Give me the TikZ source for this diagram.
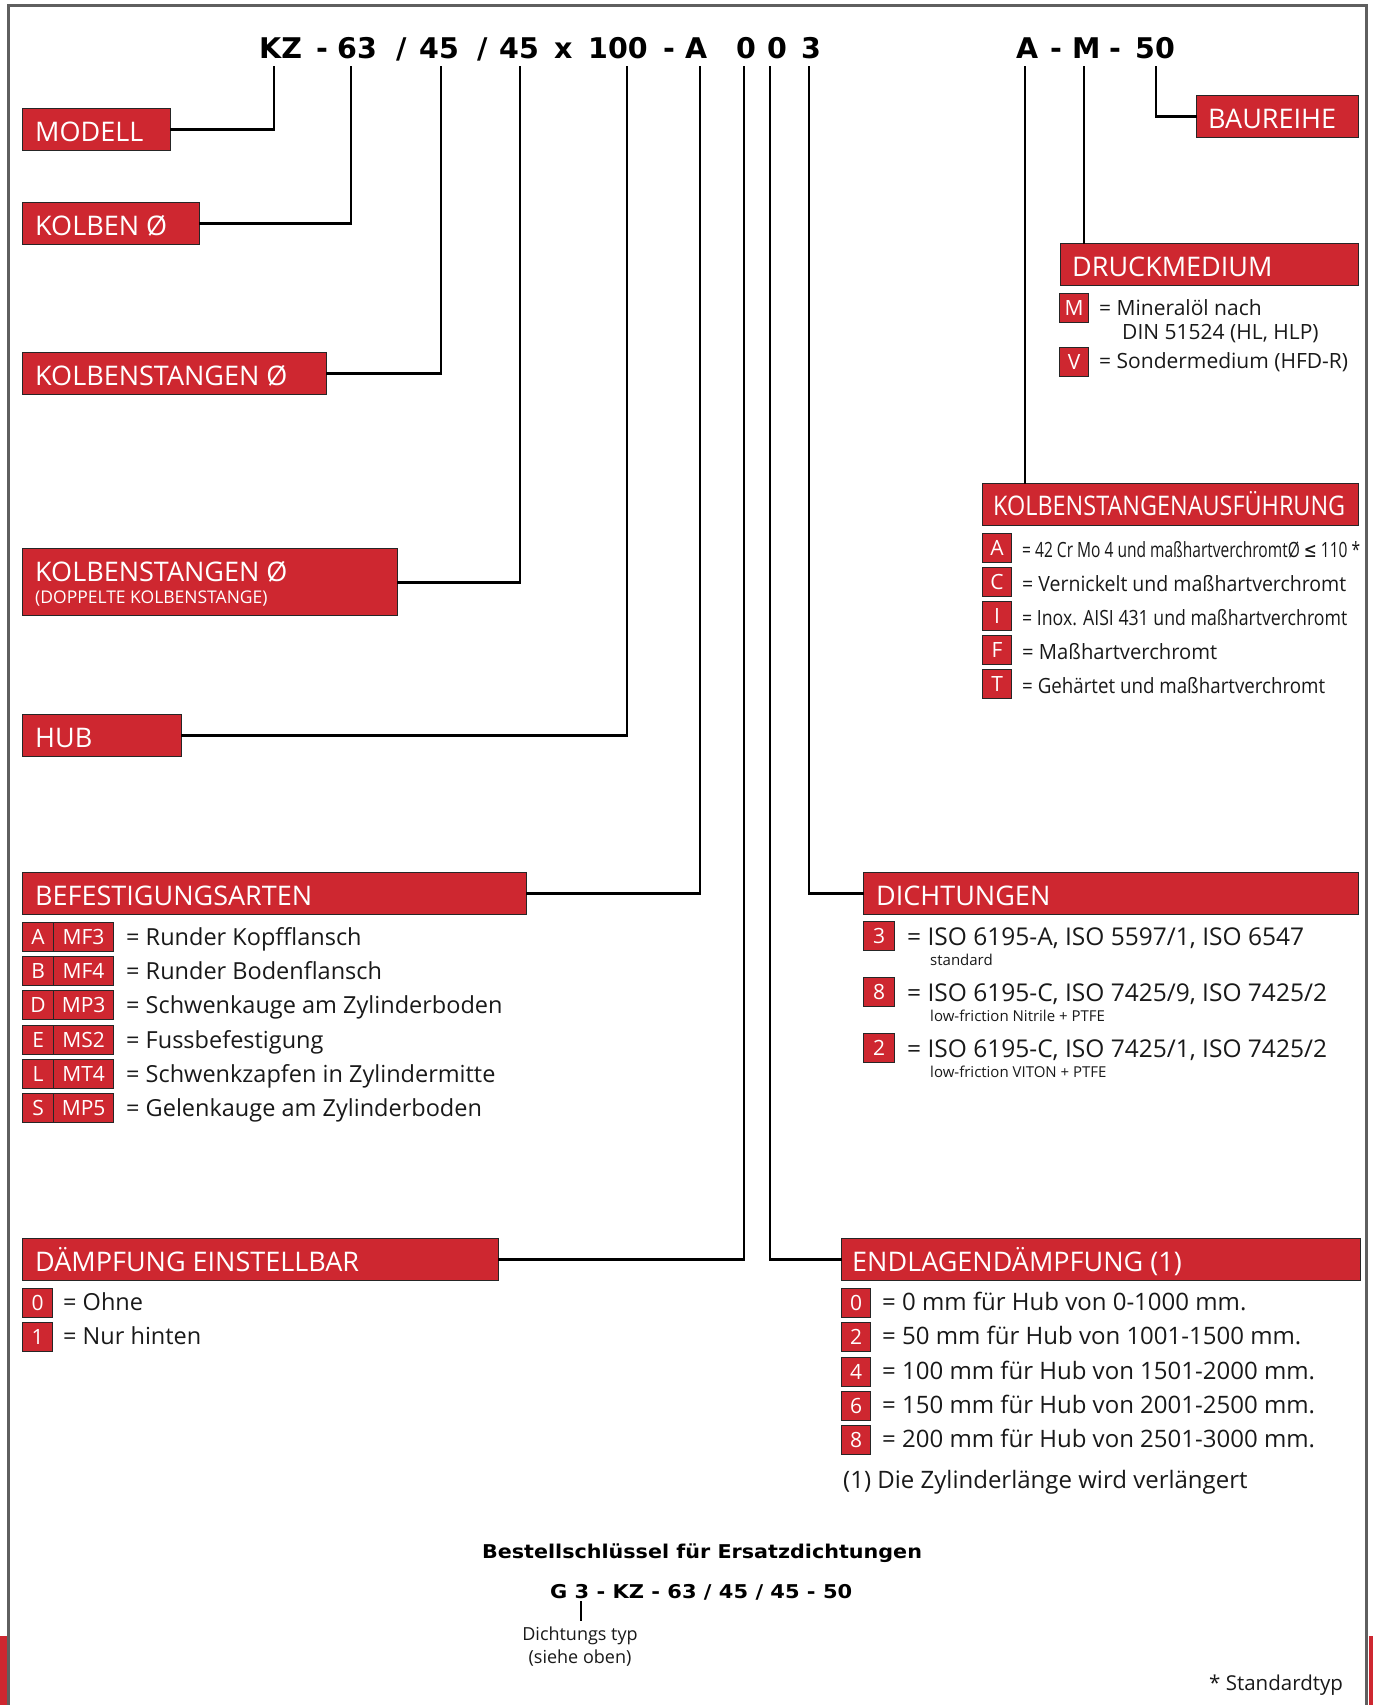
\documentclass[tikz,border=0pt]{standalone}
\usepackage{fontspec}
\usepackage{graphicx}
\setmainfont{Open Sans}
\newfontfamily\dvfont{DejaVu Sans}
\definecolor{kred}{RGB}{206,39,48}
\definecolor{ktext}{RGB}{25,25,25}
\definecolor{kframe}{RGB}{95,95,95}
\newcommand\fitw[2]{\resizebox{#1pt}{\height}{#2}}
\newcommand\fhdr{\fontsize{27}{32}\selectfont}
\newcommand\fsub{\fontsize{17.5}{20}\selectfont}
\newcommand\fcode{\dvfont\bfseries\fontsize{28.5}{34}\selectfont}
\newcommand\fkey{\fontsize{21}{25}\selectfont}
\newcommand\fdruck{\fontsize{21}{26}\selectfont}
\newcommand\fkaus{\fontsize{21}{25}\selectfont}
\newcommand\fbody{\fontsize{23.5}{28}\selectfont}
\newcommand\fiso{\fontsize{24.5}{29}\selectfont}
\newcommand\fendl{\fontsize{24}{29}\selectfont}
\newcommand\fsmall{\fontsize{15}{18}\selectfont}
\newcommand\fbot{\dvfont\bfseries\fontsize{19}{23}\selectfont}
\newcommand\fnote{\fontsize{18}{22}\selectfont}
\begin{document}
\begin{tikzpicture}[x=1pt,y=-1pt,
  hbox/.style={draw=black!85,line width=1.4pt,fill=kred,inner sep=0pt,anchor=north west},
  kb/.style={draw=black!85,line width=1.2pt,fill=kred,text=white,inner sep=0pt,
    minimum height=29pt,font=\fkey,text height=15pt,text depth=0pt,anchor=north west},
  hl/.style={anchor=base west,inner sep=0pt,text=white,font=\fhdr},
  tx/.style={anchor=base west,inner sep=0pt,text=ktext},
  tok/.style={anchor=base west,inner sep=0pt,text=black,font=\fcode},
  conn/.style={draw=black,line width=2.6pt,line cap=rect}]
\useasboundingbox (0,0) rectangle (1373,1705);
\fill[white] (0,0) rectangle (1373,1705);
% frame and red strips
\fill[kred] (0,1636) rectangle (7.5,1705);
\fill[kred] (1369,1636) rectangle (1373,1705);
\draw[kframe,line width=3pt] (8.8,1705) -- (8.8,5.5) -- (1366.3,5.5) -- (1366.3,1705);

% header code tokens
\node[tok] (t1) at (259,58) {KZ};
\node[tok] (t2) at (316,58) {-};
\node[tok] (t3) at (337,58) {63};
\node[tok] (t4) at (396,58) {/};
\node[tok] (t5) at (419,58) {45};
\node[tok] (t6) at (477,58) {/};
\node[tok] (t7) at (499,58) {45};
\node[tok] (t8) at (554,58) {x};
\node[tok] (t9) at (588,58) {100};
\node[tok] (t10) at (663,58) {-};
\node[tok] (t11) at (685,58) {A};
\node[tok] (t12) at (736,58) {0};
\node[tok] (t13) at (767,58) {0};
\node[tok] (t14) at (801,58) {3};
\node[tok] (t15) at (1016,58) {A};
\node[tok] (t16) at (1050,58) {-};
\node[tok] (t17) at (1072,58) {M};
\node[tok] (t18) at (1109,58) {-};
\node[tok] (t19) at (1135,58) {50};

\coordinate (c1) at (274,67);
\coordinate (c2) at (351,67);
\coordinate (c3) at (441,67);
\coordinate (c4) at (520,67);
\coordinate (c5) at (627,67);
\coordinate (c6) at (700,67);
\coordinate (c7) at (744,67);
\coordinate (c8) at (770,67);
\coordinate (c9) at (809,67);
\coordinate (c10) at (1025,67);
\coordinate (c11) at (1084,67);
\coordinate (c12) at (1156,67);

% header boxes
\node[hbox,minimum width=148pt,minimum height=42pt] (modell) at (22,108) {};
\node[hbox,minimum width=177pt,minimum height=42pt] (kolben) at (22,202) {};
\node[hbox,minimum width=304pt,minimum height=42pt] (kstang) at (22,352) {};
\node[hbox,minimum width=375pt,minimum height=67pt] (kstang2) at (22,548) {};
\node[hbox,minimum width=159pt,minimum height=42pt] (hub) at (22,714) {};
\node[hbox,minimum width=504pt,minimum height=42pt] (befest) at (22,872) {};
\node[hbox,minimum width=476pt,minimum height=42pt] (daempf) at (22,1238) {};
\node[hbox,minimum width=162pt,minimum height=42pt] (baureihe) at (1196,95) {};
\node[hbox,minimum width=298pt,minimum height=42pt] (druck) at (1060,243) {};
\node[hbox,minimum width=376pt,minimum height=42pt] (kaus) at (982,483) {};
\node[hbox,minimum width=495pt,minimum height=42pt] (dicht) at (863,872) {};
\node[hbox,minimum width=519pt,minimum height=42pt] (endl) at (841,1238) {};

% connectors
\draw[conn] (modell.east) -| (c1);
\draw[conn] (kolben.east) -| (c2);
\draw[conn] (kstang.east) -| (c3);
\draw[conn] (kstang2.east) -| (c4);
\draw[conn] (hub.east) -| (c5);
\draw[conn] (befest.east) -| (c6);
\draw[conn] (daempf.east) -| (c7);
\draw[conn] (c8) |- (endl.west);
\draw[conn] (c9) |- (dicht.west);
\draw[conn] (c10) -- (c10 |- kaus.north);
\draw[conn] (c11) -- (c11 |- druck.north);
\draw[conn] (c12) |- (baureihe.west);

% header labels
\node[hl] (lmodell) at (35,141) {MODELL};
\node[hl] (lkolben) at (35,235) {KOLBEN Ø};
\node[hl] (lkstang) at (35,385) {KOLBENSTANGEN Ø};
\node[hl] (lkstang2) at (35,581) {KOLBENSTANGEN Ø};
\node[hl,font=\fsub] (lkstang2b) at (35,603) {(DOPPELTE KOLBENSTANGE)};
\node[hl] (lhub) at (35,747) {HUB};
\node[hl] (lbefest) at (35,905) {BEFESTIGUNGSARTEN};
\node[hl] (ldaempf) at (35,1271) {DÄMPFUNG EINSTELLBAR};
\node[hl] (lbaureihe) at (1208,128) {BAUREIHE};
\node[hl] (ldruck) at (1072,276) {DRUCKMEDIUM};
\node[hl] (lkaus) at (993,515) {\fitw{352}{KOLBENSTANGENAUSFÜHRUNG}};
\node[hl] (ldicht) at (876,905) {DICHTUNGEN};
\node[hl] (lendl) at (852,1271) {ENDLAGENDÄMPFUNG (1)};

% DRUCKMEDIUM
\node[kb,minimum width=29pt] (dM) at (1059,293) {M};
\node[tx,font=\fdruck] (dMt) at (1099,315) {= Mineralöl nach};
\node[tx,font=\fdruck] (dMt2) at (1122,339) {DIN 51524 (HL, HLP)};
\node[kb,minimum width=29pt] (dV) at (1059,347) {V};
\node[tx,font=\fdruck] (dVt) at (1099,368) {= Sondermedium (HFD-R)};

% KOLBENSTANGENAUSFUEHRUNG
\node[kb,minimum width=29pt] (kA) at (982,533) {A};
\node[tx,font=\fkaus] (kAt) at (1022,557) {\fitw{338}{= 42 Cr Mo 4 und maßhartverchromtØ {\dvfont ≤} 110 *}};
\node[kb,minimum width=29pt] (kC) at (982,567) {C};
\node[tx,font=\fkaus] (kCt) at (1022,591) {\fitw{324}{= Vernickelt und maßhartverchromt}};
\node[kb,minimum width=29pt] (kI) at (982,601) {I};
\node[tx,font=\fkaus] (kIt) at (1022,625) {\fitw{325}{= Inox. AISI 431 und maßhartverchromt}};
\node[kb,minimum width=29pt] (kF) at (982,635) {F};
\node[tx,font=\fkaus] (kFt) at (1022,659) {\fitw{195}{= Maßhartverchromt}};
\node[kb,minimum width=29pt] (kT) at (982,669) {T};
\node[tx,font=\fkaus] (kTt) at (1022,693) {\fitw{303}{= Gehärtet und maßhartverchromt}};

% BEFESTIGUNGSARTEN
\node[kb,minimum width=31pt] (bA) at (22,922) {A};
\node[kb,minimum width=60pt] (bA2) at (53,922) {MF3};
\node[tx,font=\fbody] (bAt) at (126,945) {= Runder Kopfflansch};
\node[kb,minimum width=31pt] (bB) at (22,956) {B};
\node[kb,minimum width=60pt] (bB2) at (53,956) {MF4};
\node[tx,font=\fbody] (bBt) at (126,979) {= Runder Bodenflansch};
\node[kb,minimum width=31pt] (bD) at (22,990) {D};
\node[kb,minimum width=60pt] (bD2) at (53,990) {MP3};
\node[tx,font=\fbody] (bDt) at (126,1013) {= Schwenkauge am Zylinderboden};
\node[kb,minimum width=31pt] (bE) at (22,1025) {E};
\node[kb,minimum width=60pt] (bE2) at (53,1025) {MS2};
\node[tx,font=\fbody] (bEt) at (126,1048) {= Fussbefestigung};
\node[kb,minimum width=31pt] (bL) at (22,1059) {L};
\node[kb,minimum width=60pt] (bL2) at (53,1059) {MT4};
\node[tx,font=\fbody] (bLt) at (126,1082) {= Schwenkzapfen in Zylindermitte};
\node[kb,minimum width=31pt] (bS) at (22,1093) {S};
\node[kb,minimum width=60pt] (bS2) at (53,1093) {MP5};
\node[tx,font=\fbody] (bSt) at (126,1116) {= Gelenkauge am Zylinderboden};

% DICHTUNGEN
\node[kb,minimum width=31pt] (s3) at (863,921) {3};
\node[tx,font=\fiso] (s3t) at (907,945) {= ISO 6195-A, ISO 5597/1, ISO 6547};
\node[tx,font=\fsmall] (s3s) at (930,965) {standard};
\node[kb,minimum width=31pt] (s8) at (863,977) {8};
\node[tx,font=\fiso] (s8t) at (907,1001) {= ISO 6195-C, ISO 7425/9, ISO 7425/2};
\node[tx,font=\fsmall] (s8s) at (930,1021) {low-friction Nitrile + PTFE};
\node[kb,minimum width=31pt] (s2) at (863,1033) {2};
\node[tx,font=\fiso] (s2t) at (907,1057) {= ISO 6195-C, ISO 7425/1, ISO 7425/2};
\node[tx,font=\fsmall] (s2s) at (930,1077) {low-friction VITON + PTFE};

% DAEMPFUNG EINSTELLBAR
\node[kb,minimum width=30pt] (e0) at (22,1288) {0};
\node[tx,font=\fbody] (e0t) at (63,1310) {= Ohne};
\node[kb,minimum width=30pt] (e1) at (22,1322) {1};
\node[tx,font=\fbody] (e1t) at (63,1344) {= Nur hinten};

% ENDLAGENDAEMPFUNG
\node[kb,minimum width=29pt] (n0) at (841,1288) {0};
\node[tx,font=\fendl] (n0t) at (882,1310) {= 0 mm für Hub von 0-1000 mm.};
\node[kb,minimum width=29pt] (n2) at (841,1322) {2};
\node[tx,font=\fendl] (n2t) at (882,1344) {= 50 mm für Hub von 1001-1500 mm.};
\node[kb,minimum width=29pt] (n4) at (841,1357) {4};
\node[tx,font=\fendl] (n4t) at (882,1379) {= 100 mm für Hub von 1501-2000 mm.};
\node[kb,minimum width=29pt] (n6) at (841,1391) {6};
\node[tx,font=\fendl] (n6t) at (882,1413) {= 150 mm für Hub von 2001-2500 mm.};
\node[kb,minimum width=29pt] (n8) at (841,1425) {8};
\node[tx,font=\fendl] (n8t) at (882,1447) {= 200 mm für Hub von 2501-3000 mm.};
\node[tx,font=\fendl] (nfoot) at (843,1488) {(1) Die Zylinderlänge wird verlängert};

% bottom
\node[anchor=base,inner sep=0pt,font=\fbot,text=black] (bst) at (702,1558) {\fitw{440}{Bestellschlüssel für Ersatzdichtungen}};
\node[anchor=base west,inner sep=0pt,font=\fbot,text=black] (gcode) at (550,1598) {\fitw{302}{G 3 - KZ - 63 / 45 / 45 - 50}};
\coordinate (u3) at (581,1601);
\coordinate (u3b) at (581,1621);
\draw[black,line width=2pt] (u3) -- (u3b);
\node[anchor=base,inner sep=0pt,font=\fnote,text=ktext] (dtyp) at (580,1640) {Dichtungs typ};
\node[anchor=base,inner sep=0pt,font=\fnote,text=ktext] (dtyp2) at (580,1663) {(siehe oben)};
\node[anchor=base west,inner sep=0pt,font=\fontsize{20.5}{24}\selectfont,text=ktext] (std) at (1209,1690) {* Standardtyp};
\end{tikzpicture}
\end{document}
